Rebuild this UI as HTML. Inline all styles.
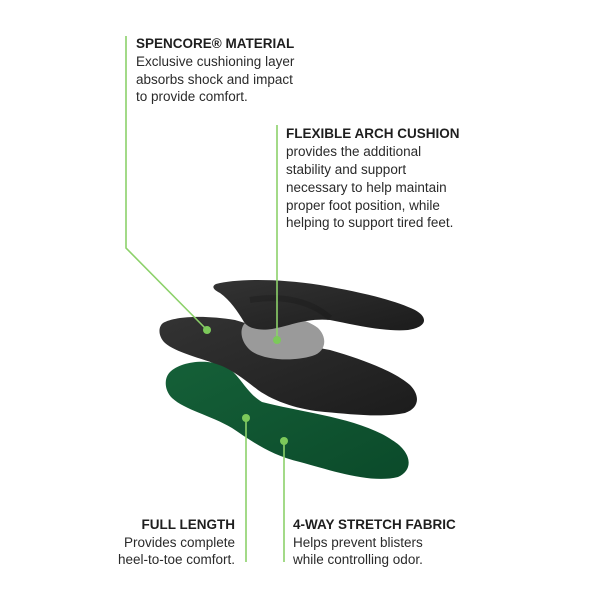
<!DOCTYPE html>
<html><head><meta charset="utf-8"><style>
html,body{margin:0;padding:0;background:#fff;}
svg{display:block}
text{font-family:"Liberation Sans",sans-serif;fill:#2a2a2a;font-size:13.5px}
.b{font-weight:bold;fill:#1e1e1e}
</style></head><body>
<svg width="600" height="600" viewBox="0 0 600 600" xmlns="http://www.w3.org/2000/svg">
<defs>
<linearGradient id="g" x1="0" y1="0" x2="1" y2="1"><stop offset="0" stop-color="#156038"/><stop offset="1" stop-color="#0b4a2a"/></linearGradient>
<linearGradient id="k" x1="0" y1="0" x2="1" y2="1"><stop offset="0" stop-color="#333"/><stop offset="1" stop-color="#1c1c1c"/></linearGradient>
</defs>
<!-- green bottom layer -->
<path d="M170 372 C180 362 205 358 225 366 C240 374 245 392 262 402 C300 412 360 418 392 440 C412 452 414 470 398 477 C370 484 330 470 300 462 C270 455 250 440 232 428 C210 415 185 410 172 398 C164 390 164 378 170 372Z" fill="url(#g)"/>
<!-- middle black -->
<path d="M163 323 C175 316 205 315 235 320 C270 330 300 345 330 350 C365 360 395 372 410 385 C420 395 420 408 405 413 C380 418 350 414 325 412 C300 410 275 402 258 390 C245 380 235 372 222 366 C200 358 175 352 165 343 C158 336 158 327 163 323Z" fill="url(#k)"/>
<!-- gray cushion -->
<path d="M246 322 C262 312 300 314 318 328 C328 338 326 352 312 356 C292 362 262 360 250 350 C240 341 239 328 246 322Z" fill="#9a9a9a"/>
<!-- top black -->
<path d="M216 284 C235 279 275 278 320 285 C360 292 395 300 415 310 C428 317 428 327 408 330 C385 332 355 325 330 320 C305 318 290 326 272 329 C258 331 248 328 244 322 C238 312 230 300 220 293 C212 289 212 286 216 284Z" fill="url(#k)"/>
<path d="M250 300 C280 295 310 300 330 318" stroke="#111" stroke-width="6" fill="none" opacity=".25"/>
<!-- connectors -->
<g stroke="#8cd16a" stroke-width="1.6" fill="none">
<path d="M126 36 L126 248 L207 330"/>
<path d="M277 125 L277 340"/>
<path d="M246 418 L246 562"/>
<path d="M284 441 L284 562"/>
</g>
<g fill="#7cc95a">
<circle cx="207" cy="330" r="4"/><circle cx="277" cy="340" r="4"/>
<circle cx="246" cy="418" r="4"/><circle cx="284" cy="441" r="4"/>
</g>
<!-- texts -->
<text x="136" y="48" class="b">SPENCORE® MATERIAL</text>
<text x="136" y="66">Exclusive cushioning layer</text>
<text x="136" y="84">absorbs shock and impact</text>
<text x="136" y="101">to provide comfort.</text>

<text x="286" y="138" class="b">FLEXIBLE ARCH CUSHION</text>
<text x="286" y="156">provides the additional</text>
<text x="286" y="174">stability and support</text>
<text x="286" y="192">necessary to help maintain</text>
<text x="286" y="210">proper foot position, while</text>
<text x="286" y="227">helping to support tired feet.</text>

<text x="235" y="529" class="b" text-anchor="end">FULL LENGTH</text>
<text x="235" y="547" text-anchor="end">Provides complete</text>
<text x="235" y="564" text-anchor="end">heel-to-toe comfort.</text>

<text x="293" y="529" class="b">4-WAY STRETCH FABRIC</text>
<text x="293" y="547">Helps prevent blisters</text>
<text x="293" y="564">while controlling odor.</text>
</svg>
</body></html>
